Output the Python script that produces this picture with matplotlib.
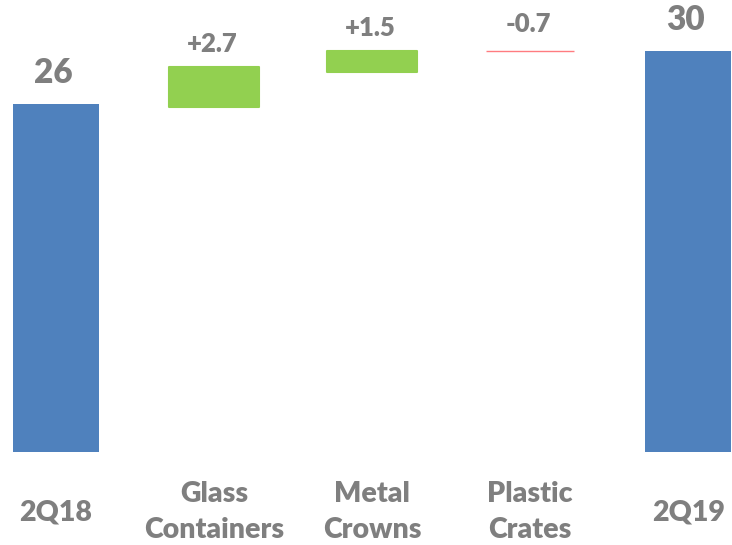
import matplotlib.pyplot as plt

# categories and values
categories = ["2Q18", "Glass\nContainers", "Metal\nCrowns", "Plastic\nCrates", "2Q19"]
value_labels = ["26", "+2.7", "+1.5", "-0.7", "30"]
bar_bottoms = [0, 25.8, 28.4, 30.0, 0]
bar_tops = [26.0, 28.8, 30.0, 29.95, 30.0]
kinds = ["total", "up", "up", "down", "total"]

colors = {"total": "#4F81BD", "up": "#92D050", "down": "#FF7C80"}
grey = "#7F7F7F"

plt.rcParams['font.family'] = ['Lato', 'DejaVu Sans']

fig = plt.figure(figsize=(7.32, 5.45), dpi=100)
ax = fig.add_axes([0, 0, 1, 1])

for i, (b, t, k) in enumerate(zip(bar_bottoms, bar_tops, kinds)):
    if k == "total":
        ax.bar(i, t - b, bottom=b, width=0.545, color=colors[k])
    elif k == "up":
        ax.bar(i, t - b, bottom=b, width=0.565, color=colors[k],
               edgecolor=colors[k], linewidth=1.5, joinstyle='round')
    else:
        ax.bar(i, t - b, bottom=b, width=0.56, color=colors[k],
               edgecolor=colors[k], linewidth=1.0)

# value labels above the bars
for i, (lab, k) in enumerate(zip(value_labels, kinds)):
    top = max(bar_bottoms[i], bar_tops[i])
    if k == "total":
        ax.annotate(lab, (i, top), xytext=(-2, 11), textcoords='offset points',
                    ha='center', va='bottom', fontsize=24, fontweight='heavy', color=grey)
    else:
        off = 8 if k == "up" else 11
        ax.annotate(lab, (i, top), xytext=(-1, off), textcoords='offset points',
                    ha='center', va='bottom', fontsize=18.5, fontweight='heavy', color=grey)

# category labels under the bars
for i, cat in enumerate(categories):
    ax.text(i, -4.5, cat, ha='center', va='center', fontsize=20.5,
            fontweight='heavy', color=grey, linespacing=1.45)

ax.set_xlim(-0.354, 4.278)
ax.set_ylim(-6.96, 33.8)
ax.axis('off')

plt.savefig('out.png', dpi=100)
